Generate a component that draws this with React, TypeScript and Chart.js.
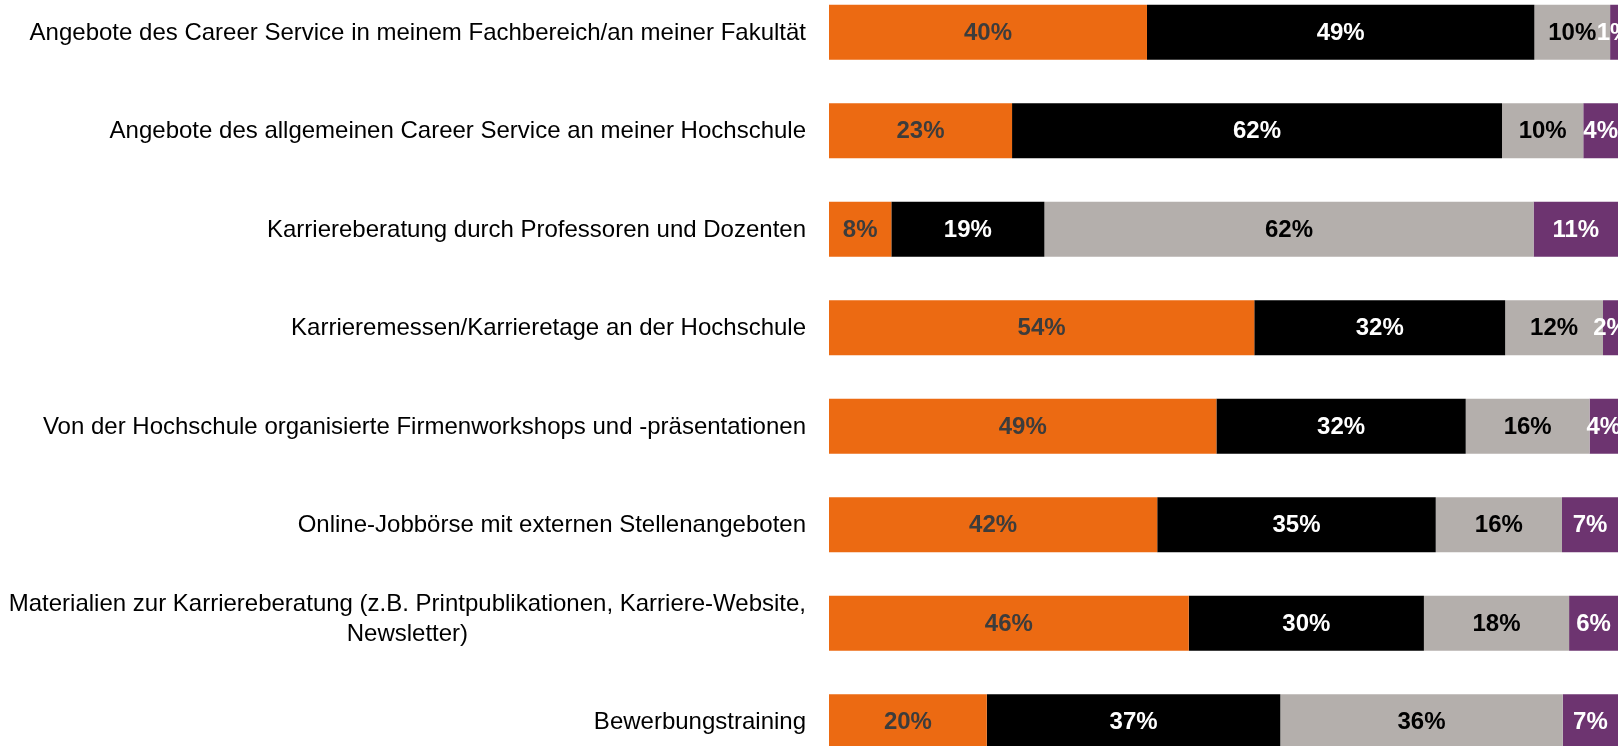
import React, { useEffect, useRef } from "react";
import { Chart, registerables } from "chart.js";

Chart.register(...registerables);

const categories: (string | string[])[] = [
  "Angebote des Career Service in meinem Fachbereich/an meiner Fakultät",
  "Angebote des allgemeinen Career Service an meiner Hochschule",
  "Karriereberatung durch Professoren und Dozenten",
  "Karrieremessen/Karrieretage an der Hochschule",
  "Von der Hochschule organisierte Firmenworkshops und -präsentationen",
  "Online-Jobbörse mit externen Stellenangeboten",
  ["Materialien zur Karriereberatung (z.B. Printpublikationen, Karriere-Website,", "Newsletter)"],
  "Bewerbungstraining",
];

const orangeValues = [40.3, 23.2, 7.9, 53.9, 49.1, 41.6, 45.6, 20.0];
const blackValues = [49.1, 62.1, 19.4, 31.8, 31.6, 35.3, 29.8, 37.2];
const grayValues = [9.6, 10.3, 62.0, 12.4, 15.7, 16.0, 18.4, 35.8];
const purpleValues = [1.0, 4.4, 10.7, 1.9, 3.6, 7.1, 6.2, 7.0];

const FONT = "'Liberation Sans', Arial, Helvetica, sans-serif";

const barLabelPlugin = {
  id: "barLabels",
  afterDatasetsDraw(chart: any) {
    const ctx = chart.ctx;
    ctx.save();
    ctx.font = `bold 24px ${FONT}`;
    ctx.textAlign = "center";
    ctx.textBaseline = "middle";
    chart.data.datasets.forEach((ds: any, di: number) => {
      const meta = chart.getDatasetMeta(di);
      meta.data.forEach((el: any, i: number) => {
        const v = ds.data[i];
        const cx = (el.x + el.base) / 2;
        ctx.fillStyle = ds.labelColor;
        ctx.fillText(Math.round(v) + "%", cx, el.y + 1);
      });
    });
    ctx.restore();
  },
};

const categoryLabelPlugin = {
  id: "categoryLabels",
  afterDraw(chart: any) {
    const ctx = chart.ctx;
    const yScale = chart.scales.y;
    const rightX = chart.chartArea.left - 23;
    const lineH = 30;
    ctx.save();
    ctx.font = `24px ${FONT}`;
    ctx.fillStyle = "#000000";
    ctx.textAlign = "center";
    ctx.textBaseline = "middle";
    chart.data.labels.forEach((lab: any, i: number) => {
      const lines: string[] = Array.isArray(lab) ? lab : [lab];
      const widths = lines.map((l) => ctx.measureText(l).width);
      const blockW = Math.max(...widths);
      const cx = rightX - blockW / 2;
      const cy = yScale.getPixelForTick(i);
      const n = lines.length;
      lines.forEach((l, li) => {
        const y = cy + (li - (n - 1) / 2) * lineH - (n > 1 ? 5 : 0) + 1;
        ctx.fillText(l, cx, y);
      });
    });
    ctx.restore();
  },
};

export default function App() {
  const ref = useRef<HTMLCanvasElement>(null);
  useEffect(() => {
    if (!ref.current) return;
    Chart.defaults.font.family = FONT;
    const chart = new Chart(ref.current, {
      type: "bar",
      data: {
        labels: categories as any,
        datasets: [
          { label: "orange", data: orangeValues, backgroundColor: "#EC6A12", labelColor: "#3C3C3C" } as any,
          { label: "black", data: blackValues, backgroundColor: "#000000", labelColor: "#FFFFFF" } as any,
          { label: "gray", data: grayValues, backgroundColor: "#B4AFAC", labelColor: "#000000" } as any,
          { label: "purple", data: purpleValues, backgroundColor: "#6D3470", labelColor: "#FFFFFF" } as any,
        ],
      },
      options: {
        indexAxis: "y",
        responsive: false,
        animation: false,
        maintainAspectRatio: false,
        layout: { padding: { left: 0, right: 6, top: 0, bottom: 0 } },
        datasets: { bar: { categoryPercentage: 1, barPercentage: 0.5584, borderWidth: 0 } },
        plugins: { legend: { display: false }, tooltip: { enabled: false } },
        scales: {
          x: {
            stacked: true,
            min: 0,
            max: 100,
            display: false,
          },
          y: {
            stacked: true,
            grid: { display: false },
            border: { display: false },
            ticks: { display: false },
            afterFit(scale: any) {
              scale.width = 829;
            },
          },
        },
      } as any,
      plugins: [barLabelPlugin, categoryLabelPlugin],
    });
    return () => chart.destroy();
  }, []);
  return (
    <div style={{ position: "fixed", left: 0, top: -17, width: 1624, height: 788 }}>
      <canvas ref={ref} width={1624} height={788} style={{ width: 1624, height: 788, display: "block" }} />
    </div>
  );
}
